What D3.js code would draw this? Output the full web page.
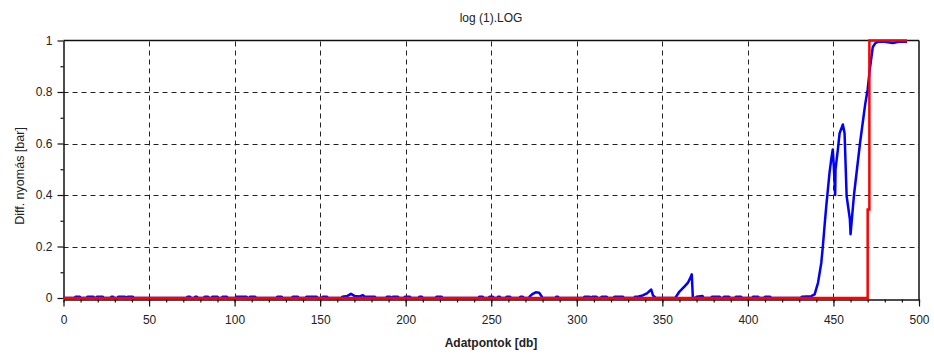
<!DOCTYPE html>
<html>
<head>
<meta charset="utf-8">
<script src="https://cdn.jsdelivr.net/npm/d3@7"></script>
<style>
  html, body { margin: 0; padding: 0; background: #fff; }
  svg { display: block; font-family: "Liberation Sans", Arial, sans-serif; }
</style>
</head>
<body>
<svg id="chart" width="934" height="354"></svg>
<script>
// ---- data ----
const chartTitle = "log (1).LOG";
const xTitle = "Adatpontok [db]";
const yTitle = "Diff. nyomás [bar]";
const xTicks = [0, 50, 100, 150, 200, 250, 300, 350, 400, 450, 500];
const yTicks = [0, 0.2, 0.4, 0.6, 0.8, 1];
const xMinorTicks = d3.range(0, 501, 10);
const yMinorTicks = [0.1, 0.3, 0.5, 0.7, 0.9];

// blue series: [adatpont, nyomás]
const blueSeries = [
  [0,0],
  [6.5,0],[7,0.005],[9.5,0.005],[10,0],
  [13.5,0],[14,0.005],[17.5,0.005],[18,0],
  [19,0],[19.5,0.005],[23,0.005],[23.5,0],
  [27.5,0],[28,0.005],[29,0.005],[29.5,0],
  [31.5,0],[32,0.005],[36,0.005],[36.5,0],
  [37,0],[37.5,0.005],[40.5,0.005],[41,0],
  [72,0],[72.5,0.005],[74,0.005],[74.5,0],
  [76.5,0],[77,0.005],[78,0.005],[78.5,0],
  [82,0],[82.5,0.005],[84.5,0.005],[85,0],
  [86.5,0],[87,0.005],[90,0.005],[90.5,0],
  [92.5,0],[93,0.005],[95.5,0.005],[96,0],
  [100.5,0],[101,0.005],[107,0.005],[107.5,0],
  [108.5,0],[109,0.005],[112,0.005],[112.5,0],
  [124.5,0],[125,0.005],[127.5,0.005],[128,0],
  [133.5,0],[134,0.005],[137,0.005],[137.5,0],
  [141.5,0],[142,0.005],[148,0.005],[148.5,0],
  [151,0],[151.5,0.005],[154,0.005],[154.5,0],
  [162.5,0],[163,0.005],[166,0.008],[168,0.016],[170,0.008],[173,0.006],[175,0.011],[176,0.005],[178,0.005],[182,0.005],[182.5,0],
  [188.5,0],[189,0.005],[191,0.005],[191.5,0],
  [192,0],[192.5,0.005],[195.5,0.005],[196,0],
  [199,0],[199.5,0.005],[202.5,0.005],[203,0],
  [207.5,0],[208,0.005],[209.5,0.005],[210,0],
  [217.5,0],[218,0.005],[221,0.005],[221.5,0],
  [242.5,0],[243,0.005],[245,0.005],[245.5,0],
  [248.5,0],[249,0.005],[251,0.005],[251.5,0],
  [253.5,0],[254,0.005],[255,0.005],[255.5,0],
  [258.5,0],[259,0.005],[261,0.005],[261.5,0],
  [266.5,0],[267,0.005],[268.5,0.005],[269,0],
  [272,0],[272.5,0.006],[274,0.015],[276,0.022],[278,0.02],[279.5,0.006],[280,0],
  [287.5,0],[288,0.005],[289,0.005],[289.5,0],
  [304,0],[304.5,0.005],[307.5,0.005],[308,0],
  [308.5,0],[309,0.005],[311.5,0.005],[312,0],
  [314,0],[314.5,0.005],[317.5,0.005],[318,0],
  [321.5,0],[322,0.005],[327,0.005],[327.5,0],
  [333.5,0],[334,0.005],[336,0.006],[338.5,0.01],[341,0.018],[343.5,0.033],[344.5,0.01],[345.5,0.005],[346,0],
  [357.5,0],[358,0.005],[360,0.025],[363,0.045],[365,0.06],[366.5,0.08],[367.2,0.092],[367.8,0.005],[368.5,0],
  [369.5,0],[370,0.005],[373.5,0.008],[374,0],
  [378.5,0],[379,0.005],[383.5,0.005],[384,0],
  [385.5,0],[386,0.005],[389,0.005],[389.5,0],
  [392.5,0],[393,0.005],[396,0.005],[396.5,0],
  [402.5,0],[403,0.005],[406,0.005],[406.5,0],
  [409.5,0],[410,0.005],[413,0.005],[413.5,0],
  [431,0],[431.5,0.005],[437,0.007],[439,0.014],[441,0.06],[442.9,0.137],[443.8,0.2],
  [444.8,0.28],[445.8,0.357],[447.7,0.486],[448.7,0.538],[449.6,0.577],[450.2,0.512],
  [451,0.40],[451.2,0.5],[452.6,0.577],[453.6,0.64],[455.5,0.674],[456.5,0.64],
  [457.7,0.396],[459.6,0.306],[460,0.248],[462,0.4],[465.5,0.6],[468.5,0.75],
  [470,0.81],[471.2,0.886],[473,0.975],[474.5,0.99],[476,0.995],[480,0.995],
  [484.7,0.99],[488,0.995],[493,0.995]
];

// red series: [adatpont, nyomás]
const redSeries = [
  [0,0],[470,0],[470,0.344],[471,0.344],[471,1],[493,1]
];

// ---- layout ----
const svg = d3.select("#chart");
const x = d3.scaleLinear().domain([0, 500]).range([63.5, 919]);
const y = d3.scaleLinear().domain([0, 1]).range([298, 40.5]);
const x0 = x.range()[0], x1 = x.range()[1];
const yTop = y(1), yBot = y(0);

// grid
const grid = svg.append("g").attr("stroke", "#222").attr("stroke-width", 1)
  .attr("stroke-dasharray", "5,4").attr("fill", "none");
xTicks.filter(d => d > 0 && d < 500).forEach(d => {
  grid.append("line").attr("x1", Math.round(x(d)) + 0.5).attr("x2", Math.round(x(d)) + 0.5)
    .attr("y1", yTop + 1).attr("y2", yBot);
});
yTicks.filter(d => d > 0 && d < 1).forEach(d => {
  grid.append("line").attr("x1", x0).attr("x2", x1)
    .attr("y1", Math.round(y(d)) + 0.5).attr("y2", Math.round(y(d)) + 0.5);
});

// frame top & right
svg.append("line").attr("x1", x0).attr("x2", x1).attr("y1", yTop).attr("y2", yTop)
  .attr("stroke", "#111").attr("stroke-width", 1.5);
svg.append("line").attr("x1", x1).attr("x2", x1).attr("y1", yTop).attr("y2", yBot + 1.5)
  .attr("stroke", "#111").attr("stroke-width", 1.5);

// axes
const axisBottomY = yBot + 1.5;
const xAxis = svg.append("g").attr("transform", `translate(0,${axisBottomY})`)
  .call(d3.axisBottom(x).tickValues(xTicks).tickSize(7).tickPadding(9).tickSizeOuter(0)
    .tickFormat(d3.format("d")));
const xMinor = svg.append("g").attr("transform", `translate(0,${axisBottomY})`)
  .call(d3.axisBottom(x).tickValues(xMinorTicks).tickSize(3).tickFormat("").tickSizeOuter(0));
xMinor.select(".domain").remove();

const yAxis = svg.append("g").attr("transform", `translate(${x0},0)`)
  .call(d3.axisLeft(y).tickValues(yTicks).tickSize(6).tickPadding(5).tickSizeOuter(0)
    .tickFormat(d3.format("~g")));
const yMinor = svg.append("g").attr("transform", `translate(${x0},0)`)
  .call(d3.axisLeft(y).tickValues(yMinorTicks).tickSize(3).tickFormat("").tickSizeOuter(0));
yMinor.select(".domain").remove();

svg.selectAll(".tick line").attr("stroke", "#111").attr("stroke-width", 1.2);
svg.selectAll(".domain").attr("stroke", "#111").attr("stroke-width", 1.5);
svg.selectAll(".tick text").attr("font-size", 12).attr("fill", "#222")
  .attr("font-family", "'Liberation Sans', Arial, sans-serif");

// lines
const line = d3.line().x(d => x(d[0])).y(d => y(d[1]));
svg.append("path").datum(blueSeries).attr("d", line)
  .attr("fill", "none").attr("stroke", "#0000ff").attr("stroke-width", 2.5)
  .attr("stroke-linejoin", "round");
svg.append("path").datum(redSeries).attr("d", line)
  .attr("fill", "none").attr("stroke", "#ff0000").attr("stroke-width", 2.5)
  .attr("stroke-linejoin", "miter");

// texts
svg.append("text").attr("x", 491).attr("y", 22).attr("text-anchor", "middle")
  .attr("font-size", 12).attr("fill", "#222").text(chartTitle);
svg.append("text").attr("x", 491).attr("y", 347).attr("text-anchor", "middle")
  .attr("font-size", 12).attr("font-weight", "bold").attr("fill", "#222").text(xTitle);
svg.append("text").attr("transform", "translate(24,176) rotate(-90)").attr("text-anchor", "middle")
  .attr("font-size", 12.5).attr("fill", "#222").text(yTitle);
</script>
</body>
</html>
